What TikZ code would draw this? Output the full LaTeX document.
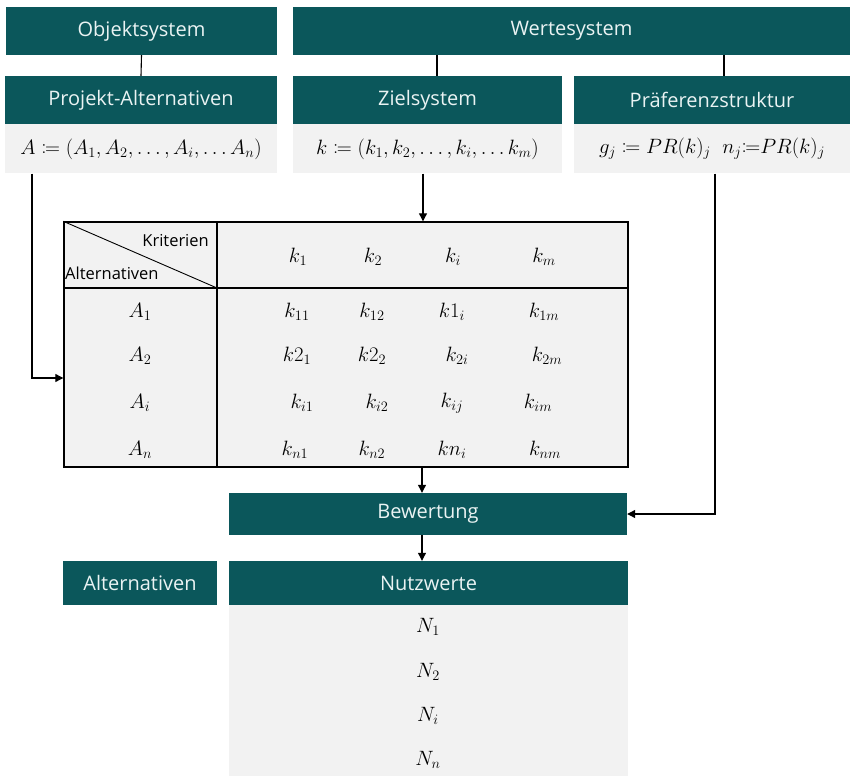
\documentclass[tikz,border=0pt]{standalone}
\usepackage{mathtools}
\usepackage{fontspec}
\setmainfont{Open Sans}
\usetikzlibrary{arrows.meta, positioning, calc}
\definecolor{headteal}{HTML}{0B575B}
\definecolor{headtext}{HTML}{EAF3F3}
\definecolor{formgray}{HTML}{F2F2F2}

\begin{document}
\begin{tikzpicture}[
    x=1pt, y=-1pt,
    >={Triangle[length=8pt,width=8pt]},
    every node/.style={inner sep=0pt},
    headbox/.style={
        fill=headteal, text=headtext, minimum height=48pt,
        font=\fontsize{20}{24}\selectfont
    },
    formbox/.style={
        fill=formgray, minimum height=49pt,
        font=\fontsize{20}{24}\selectfont
    },
    cellval/.style={font=\fontsize{20}{24}\selectfont},
    hdlabel/.style={font=\fontsize{16.5}{19}\selectfont},
    link/.style={line width=1.1pt},
    arrstyle/.style={->, line width=1.1pt},
]
\useasboundingbox (0,0) rectangle (855,776);

% === top level ===
\node[headbox, minimum width=271pt] (obj) at (141.5,31) {Objektsystem};
\node[headbox, minimum width=557pt] (wert) at (571.5,31) {Wertesystem};

% === second level ===
\node[headbox, minimum width=272pt] (proj) at (141,100) {Projekt-Alternativen};
\node[formbox, minimum width=272pt, below=0pt of proj] (projf)
    {$A \coloneqq (A_1, A_2, \dots, A_i, \dots A_n)$};

\node[headbox, minimum width=269pt] (ziel) at (427.5,100) {Zielsystem};
\node[formbox, minimum width=269pt, below=0pt of ziel] (zielf)
    {$k \coloneqq (k_1, k_2, \dots, k_i, \dots k_m)$};

\node[headbox, minimum width=276pt] (praef) at (712,100) {Präferenzstruktur};
\node[formbox, minimum width=276pt, below=0pt of praef] (praeff)
    {$g_j \coloneqq PR(k)_j \;\; n_j{\coloneqq} PR(k)_j$};

\draw[link] (obj.south) -- (proj.north);
\draw[link] ([xshift=9.5pt]ziel.north |- wert.south) -- ([xshift=9.5pt]ziel.north);
\draw[link] ([xshift=12pt]praef.north |- wert.south) -- ([xshift=12pt]praef.north);

% === table ===
\node[draw, line width=1.4pt, fill=formgray, minimum width=564pt, minimum height=245pt]
    (tab) at (346,344.5) {};
\draw[line width=1.4pt] (64,288) -- (628,288);
\draw[line width=1.4pt] (217,222) -- (217,467);
\draw[line width=0.9pt] (tab.north west) -- (217,288);
\node[hdlabel, anchor=east] (krit) at (209,241) {Kriterien};
\node[hdlabel, anchor=west] (alth) at (65,273) {Alternativen};

\foreach \x/\t [count=\c] in {298/k_1, 373/k_2, 453/k_i, 544/k_m}
    \node[cellval] (kh\c) at (\x,257) {$\t$};

\foreach \y/\t [count=\r] in {312/A_1, 356/A_2, 403/A_i, 450/A_n}
    \node[cellval] (ar\r) at (140,\y) {$\t$};

\foreach \x/\y/\t [count=\c] in {
    297/312/k_{11}, 372/312/k_{12}, 452/312/k1_i,   544/312/k_{1m},
    297/356/k2_1,   372/356/k2_2,   457/356/k_{2i}, 547/356/k_{2m},
    302/403/k_{i1}, 377/403/k_{i2}, 452/403/k_{ij}, 538/403/k_{im},
    295/450/k_{n1}, 372/450/k_{n2}, 452/450/kn_i,   545/450/k_{nm}}
    \node[cellval] (kc\c) at (\x,\y) {$\t$};

% === evaluation ===
\node[headbox, minimum width=398pt, minimum height=42pt] (bew) at (428,514) {Bewertung};
\node[headbox, minimum width=399pt, minimum height=44pt] (nutz) at (428.5,583) {Nutzwerte};
\node[fill=formgray, minimum width=399pt, minimum height=171pt, below=0pt of nutz] (nutzf) {};
\node[headbox, minimum width=154pt, minimum height=44pt] (altn) at (140,583) {Alternativen};

\foreach \y/\t [count=\r] in {627/N_1, 672/N_2, 716/N_i, 760/N_n}
    \node[cellval] (nv\r) at (428,\y) {$\t$};

% === arrows ===
\draw[arrstyle] ([xshift=-109pt]projf.south) |- ([yshift=-33.5pt]tab.west);
\draw[arrstyle] ([xshift=-4.5pt]zielf.south) -- ([xshift=-4.5pt]zielf.south |- tab.north);
\draw[arrstyle] ([xshift=76pt]tab.south) -- ([xshift=76pt]tab.south |- bew.north);
\draw[arrstyle] ([xshift=3pt]praeff.south) |- (bew.east);
\draw[arrstyle] ([xshift=-6pt]bew.south) -- ([xshift=-6pt]bew.south |- nutz.north);

\end{tikzpicture}
\end{document}
